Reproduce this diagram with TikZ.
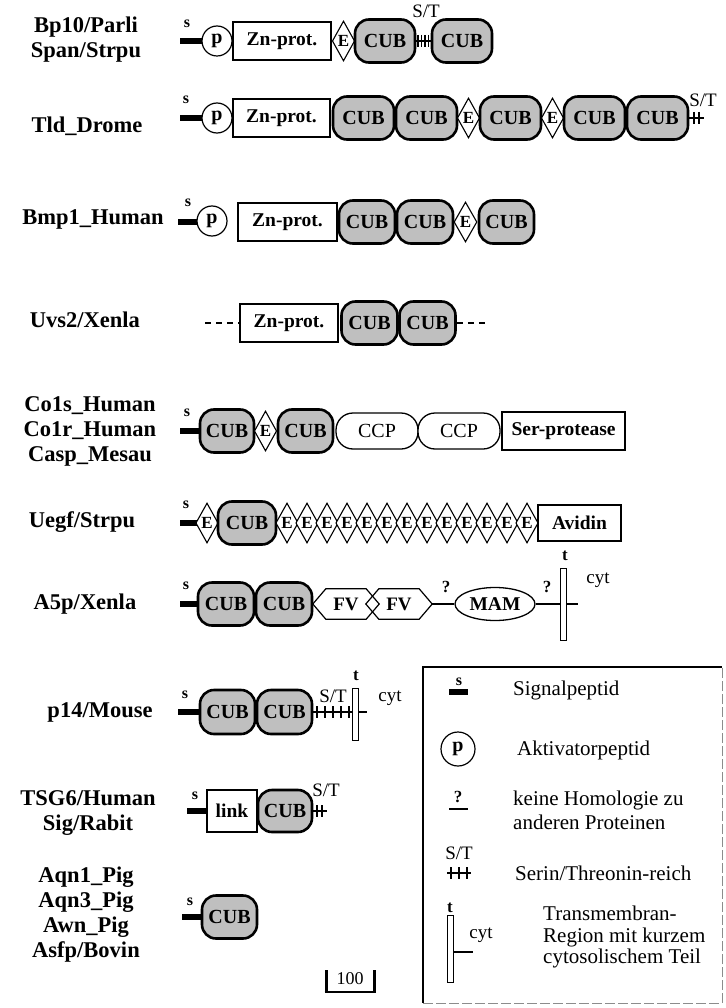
\documentclass[tikz,border=0pt]{standalone}
\usepackage{fontspec}
\setmainfont{Liberation Serif}
\usetikzlibrary{shapes.geometric}
\begin{document}
\begin{tikzpicture}[x=1pt,y=-1pt,
 lbl/.style={font=\fontsize{22.5}{25}\selectfont\bfseries, align=center, inner sep=0pt},
 cub/.style={draw, line width=2.6pt, fill=black!25, rounded corners=14pt, minimum width=#1, minimum height=43pt, inner sep=0pt, font=\fontsize{20}{20}\selectfont\bfseries},
 cub/.default=56pt,
 edom/.style={shape=diamond, draw, line width=1.1pt, fill=white, minimum width=21pt, minimum height=40pt, inner sep=0pt, font=\fontsize{17}{17}\selectfont\bfseries},
 pdom/.style={circle, draw, line width=1.2pt, fill=white, minimum size=30pt, inner sep=0pt, font=\fontsize{20}{20}\selectfont\bfseries},
 boxdom/.style={draw, line width=1.3pt, fill=white, minimum width=#1, minimum height=38pt, inner sep=0pt, font=\fontsize{19.5}{19.5}\selectfont\bfseries},
 ccpdom/.style={draw, line width=1.3pt, fill=white, rounded corners=17pt, minimum width=82pt, minimum height=36pt, inner sep=0pt, font=\fontsize{20}{20}\selectfont},
 sig/.style={line width=6pt},
 lnk/.style={line width=1.2pt},
 slbl/.style={font=\fontsize{16}{16}\selectfont\bfseries, inner sep=0pt},
 stl/.style={font=\fontsize{19}{19}\selectfont, inner sep=0pt},
 qlbl/.style={font=\fontsize{17}{17}\selectfont\bfseries, inner sep=0pt},
 cytl/.style={font=\fontsize{19}{19}\selectfont, inner sep=0pt},
 leg/.style={font=\fontsize{21}{24}\selectfont, align=left, inner sep=0pt, anchor=west},
 tmbar/.style={draw, line width=1pt, fill=white, minimum width=6pt, inner sep=0pt}
]
\useasboundingbox (0,0) rectangle (725,1008);

% ---------- Row 1 ----------
\node[lbl] (n1) at (86,40) {Bp10/Parli\\Span/Strpu};
\coordinate (s1) at (180,41);
\draw[sig] (s1) -- (203,41);
\node[pdom] (p1) at (217,41) {p};
\node[boxdom=98pt] (z1) at (282,41) {Zn-prot.};
\node[edom] (e1) at (343.5,41) {E};
\node[cub=60pt] (c1a) at (385,41) {CUB};
\node[cub=60pt] (c1b) at (462,41) {CUB};
\node[slbl] (s1l) at (187,24) {s};
\draw[lnk] (c1a.east) -- (c1b.west);
\foreach \x in {418,421.5,425,428.5} \draw[line width=1.5pt] (\x,35) -- (\x,47);
\node[stl] (st1) at (426,11) {S/T};

% ---------- Row 2 ----------
\node[lbl] (n2) at (87,126) {Tld\_Drome};
\coordinate (s2) at (180,118);
\draw[sig] (s2) -- (203,118);
\node[pdom] (p2) at (217,118) {p};
\node[boxdom=97pt] (z2) at (281.5,118) {Zn-prot.};
\node[cub=61pt] (c2a) at (363.5,118) {CUB};
\node[cub=61pt] (c2b) at (426.5,118) {CUB};
\node[edom] (e2a) at (468.5,118) {E};
\node[cub=61pt] (c2c) at (510.5,118) {CUB};
\node[edom] (e2b) at (552.5,118) {E};
\node[cub=61pt] (c2d) at (594.5,118) {CUB};
\node[cub=61pt] (c2e) at (657.5,118) {CUB};
\node[slbl] (s2l) at (186,100) {s};
\coordinate (h2) at (704,118);
\draw[lnk] (c2e.east) -- (h2);
\foreach \x in {694,699} \draw[lnk] (\x,112) -- (\x,124);
\node[stl] (st2) at (703,100) {S/T};

% ---------- Row 3 ----------
\node[lbl] (n3) at (93,219) {Bmp1\_Human};
\coordinate (s3) at (178,222);
\draw[sig] (s3) -- (198,222);
\node[pdom] (p3) at (212,221) {p};
\node[boxdom=99pt] (z3) at (287.5,222) {Zn-prot.};
\node[cub] (c3a) at (367,222) {CUB};
\node[cub] (c3b) at (425,222) {CUB};
\node[edom, minimum width=23pt] (e3) at (465.5,222) {E};
\node[cub=55pt] (c3c) at (506.5,222) {CUB};
\node[slbl] (s3l) at (188,203) {s};

% ---------- Row 4 ----------
\node[lbl] (n4) at (85,320) {Uvs2/Xenla};
\node[boxdom=98pt] (z4) at (289,323) {Zn-prot.};
\node[cub] (c4a) at (369.5,323) {CUB};
\node[cub] (c4b) at (427.5,323) {CUB};
\coordinate (d4a) at (205,323);
\coordinate (d4b) at (489,323);
\draw[lnk, dash pattern=on 6pt off 5pt] (d4a) -- (z4.west);
\draw[lnk, dash pattern=on 6pt off 5pt] (c4b.east) -- (d4b);

% ---------- Row 5 ----------
\node[lbl] (n5) at (90,431) {Co1s\_Human\\Co1r\_Human\\Casp\_Mesau};
\coordinate (s5) at (180,431);
\draw[sig] (s5) -- (202,431);
\node[cub=54pt] (c5a) at (227,431) {CUB};
\node[edom] (e5) at (265.5,431) {E};
\node[cub=55pt] (c5b) at (305.5,431) {CUB};
\node[ccpdom] (cc5a) at (377,431) {CCP};
\node[ccpdom] (cc5b) at (459,431) {CCP};
\node[boxdom=123pt] (sp5) at (563.5,431) {Ser-protease};
\node[slbl] (s5l) at (187,413) {s};

% ---------- Row 6 ----------
\node[lbl] (n6) at (82,522) {Uegf/Strpu};
\coordinate (s6) at (180,523);
\draw[sig] (s6) -- (199,523);
\node[edom, minimum width=20pt] (e6-0) at (207,523) {E};
\node[cub=58pt] (c6) at (247,523) {CUB};
\foreach \k in {1,...,13} \node[edom, minimum width=20pt] (e6-\k) at ({267+20*\k},523) {E};
\node[boxdom=83pt, minimum height=36pt] (av6) at (579.5,523) {Avidin};
\node[slbl] (s6l) at (186,505) {s};

% ---------- Row 7 ----------
\node[lbl] (n7) at (85,604) {A5p/Xenla};
\coordinate (s7) at (180,604);
\draw[sig] (s7) -- (200,604);
\node[cub] (c7a) at (226,604) {CUB};
\node[cub] (c7b) at (284,604) {CUB};
\node[inner sep=0pt, minimum width=40pt, minimum height=30pt, font=\fontsize{19}{19}\selectfont\bfseries] (fv1) at (346,604) {FV};
\node[inner sep=0pt, minimum width=40pt, minimum height=30pt, font=\fontsize{19}{19}\selectfont\bfseries] (fv2) at (399,604) {FV};
\draw[lnk] (fv1.north west) -- (fv1.north east) -- ([xshift=13pt]fv1.east) -- (fv1.south east) -- (fv1.south west) -- ([xshift=-13pt]fv1.west) -- cycle;
\draw[lnk] (fv2.north west) -- (fv2.north east) -- ([xshift=13pt]fv2.east) -- (fv2.south east) -- (fv2.south west) -- ([xshift=-13pt]fv2.west) -- cycle;
\node[ellipse, draw, line width=1.3pt, minimum width=80pt, minimum height=33pt, inner sep=0pt, font=\fontsize{19.5}{19.5}\selectfont\bfseries] (mam) at (495,604) {MAM};
\node[tmbar, minimum height=72pt] (tm7) at (563.5,604) {};
\draw[lnk] ([xshift=13pt]fv2.east) -- (mam.west);
\draw[lnk] (mam.east) -- (tm7.west);
\coordinate (cy7) at (578,604);
\draw[lnk] (tm7.east) -- (cy7);
\node[qlbl] (q7a) at (446,587) {?};
\node[qlbl] (q7b) at (547,587) {?};
\node[qlbl] (t7) at (565,556) {t};
\node[cytl] (cyt7) at (598,580) {cyt};
\node[slbl] (s7l) at (186,586) {s};

% ---------- Row 8 ----------
\node[lbl] (n8) at (100,712) {p14/Mouse};
\coordinate (s8) at (178,712);
\draw[sig] (s8) -- (202,712);
\node[cub=55pt, minimum height=44pt] (c8a) at (227.5,712) {CUB};
\node[cub=55pt, minimum height=44pt] (c8b) at (284.5,712) {CUB};
\node[tmbar, minimum height=52pt] (tm8) at (355.5,714) {};
\draw[lnk] (c8b.east) -- (tm8.west |- c8b.east);
\foreach \x in {317,325,333,341,349} \draw[lnk] (\x,706) -- (\x,718);
\coordinate (cy8) at (367,712);
\draw[lnk] (tm8.east |- cy8) -- (cy8);
\node[stl] (st8) at (333,696) {S/T};
\node[qlbl] (t8) at (356,676) {t};
\node[cytl] (cyt8) at (390,698) {cyt};
\node[slbl] (s8l) at (185,695) {s};

% ---------- Row 9 ----------
\node[lbl] (n9) at (88,813) {TSG6/Human\\Sig/Rabit};
\coordinate (s9) at (187,811);
\draw[sig] (s9) -- (209,811);
\node[boxdom=50pt, minimum height=42pt] (lk9) at (232,811) {link};
\node[cub=54pt, minimum height=42pt] (c9) at (285,811) {CUB};
\coordinate (h9) at (327,811);
\draw[lnk] (c9.east) -- (h9);
\foreach \x in {317,322} \draw[lnk] (\x,805) -- (\x,817);
\node[stl] (st9) at (326,790) {S/T};
\node[slbl] (s9l) at (195,796) {s};

% ---------- Row 10 ----------
\node[lbl] (n10) at (86,915) {Aqn1\_Pig\\Aqn3\_Pig\\Awn\_Pig\\Asfp/Bovin};
\coordinate (s10) at (182,917);
\draw[sig] (s10) -- (204,917);
\node[cub=55pt] (c10) at (229.5,917) {CUB};
\node[slbl] (s10l) at (190,902) {s};

% ---------- scale bar ----------
\coordinate (sbl) at (326,970);
\coordinate (sbr) at (374,970);
\draw[line width=3pt] (sbl) -- ++(0,23);
\draw[line width=3pt] (sbr) -- ++(0,23);
\draw[line width=2pt] (324.5,992) -- (375.5,992);
\node[font=\fontsize{18}{18}\selectfont, inner sep=0pt] (sb) at (350,979) {100};

% ---------- legend ----------
\draw[line width=1.3pt] (722,667) -- (423,667) -- (423,1003);
\draw[line width=1pt, black!45, dash pattern=on 10pt off 3pt] (423,1003) -- (722,1003) -- (722,667);
\node[slbl] (ls) at (459,682) {s};
\draw[sig] (449,692) -- (468,692);
\node[leg] (lt1) at (513,690) {Signalpeptid};
\node[pdom, minimum size=34pt] (lp) at (458,749) {p};
\node[leg] (lt2) at (517,750) {Aktivatorpeptid};
\node[qlbl] (lq) at (458,797) {?};
\draw[line width=1.6pt] (449,809) -- (468,809);
\node[leg] (lt3) at (513,810) {keine Homologie zu\\anderen Proteinen};
\node[stl] (lst) at (459,853) {S/T};
\draw[lnk] (447,873) -- (471,873);
\foreach \x in {451,459,467} \draw[lnk] (\x,867) -- (\x,879);
\node[leg] (lt4) at (515,873) {Serin/Threonin-reich};
\node[qlbl] (lt) at (450,908) {t};
\node[tmbar, minimum height=67pt] (ltm) at (450,948.5) {};
\coordinate (lcy) at (473,952);
\draw[lnk] (ltm.east |- lcy) -- (lcy);
\node[cytl] (lcyt) at (481,935) {cyt};
\node[leg, font=\fontsize{21}{21.5}\selectfont] (lt5) at (543,937) {Transmembran-\\Region mit kurzem\\cytosolischem Teil};
\end{tikzpicture}
\end{document}
